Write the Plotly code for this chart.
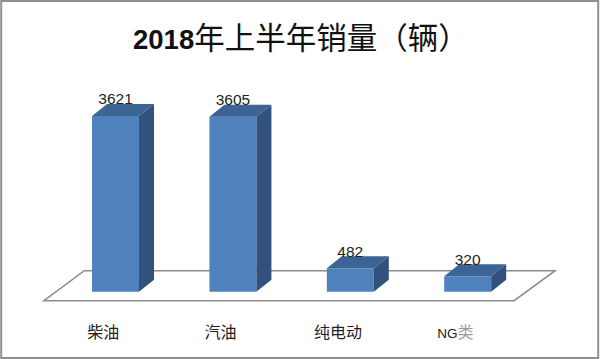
import plotly.graph_objects as go

categories = ["柴油", "汽油", "纯电动",
              '<span style="font-size:13.5px">NG</span><span style="color:#9a9a9a">类</span>']
values = [3621, 3605, 482, 320]
title_text = '<span style="font-size:27.5px"><b>2018</b></span>年上半年销量（辆）'

BAR_W = 0.40
DX, DY = 0.128, 247      # 3-D depth of a bar, in axis units
LABEL_DY = 318           # label centre above the front top edge
TICK_SHIFT = -0.105      # category labels sit under the floor's front edge
FONT = "Liberation Sans, Noto Sans CJK SC, sans-serif"

xs = list(range(len(values)))
side_x, side_y, top_x, top_y = [], [], [], []
for x, v in zip(xs, values):
    r = x + BAR_W / 2
    l = x - BAR_W / 2
    side_x += [r, r + DX, r + DX, r, r, None]
    side_y += [0, DY, v + DY, v, 0, None]
    top_x += [l, l + DX, r + DX, r, l, None]
    top_y += [v, v + DY, v + DY, v, v, None]

fig = go.Figure()
fig.add_trace(go.Bar(x=xs, y=values, width=BAR_W, marker=dict(color="#4F81BD", line=dict(width=0))))
fig.add_trace(go.Scatter(x=side_x, y=side_y, mode="lines", fill="toself", fillcolor="#31527C",
                         line=dict(width=0), hoverinfo="skip"))
fig.add_trace(go.Scatter(x=top_x, y=top_y, mode="lines", fill="toself", fillcolor="#3C6494",
                         line=dict(width=0), hoverinfo="skip"))
fig.add_trace(go.Scatter(x=xs, y=[v + LABEL_DY for v in values], mode="text",
                         text=[str(v) for v in values], textposition="middle center",
                         textfont=dict(family=FONT, size=15.5, color="#222222"), hoverinfo="skip"))

fig.update_layout(
    width=600, height=359, margin=dict(l=0, r=0, t=0, b=0), showlegend=False,
    paper_bgcolor="white", plot_bgcolor="white",
    xaxis=dict(range=[-0.984, 4.127], tickmode="array",
               tickvals=[x + TICK_SHIFT for x in xs], ticktext=categories,
               tickfont=dict(family=FONT, size=16, color="#222222"),
               showgrid=False, zeroline=False, showline=False, ticks="",
               anchor="free", position=0.105),
    yaxis=dict(range=[-1387, 6012], visible=False),
    shapes=[
        dict(type="path", xref="x", yref="y", layer="below",
             path="M -0.609 -185 L -0.266 433 L 3.745 433 L 3.395 -185 Z",
             line=dict(color="#8c8c8c", width=1.5), fillcolor="white"),
        dict(type="rect", xref="paper", yref="paper", x0=0.002, x1=0.997, y0=0.003, y1=0.997,
             line=dict(color="#8f8f8f", width=2), fillcolor="rgba(0,0,0,0)"),
    ],
    annotations=[dict(text=title_text, xref="paper", yref="paper", x=0.502, y=0.895,
                      xanchor="center", yanchor="middle", showarrow=False,
                      font=dict(family=FONT, size=30.5, color="#111111"))],
)
fig.write_html("out.html", config=dict(displayModeBar=False),
               post_script="document.body.style.margin='0';document.documentElement.style.overflow='hidden';")
